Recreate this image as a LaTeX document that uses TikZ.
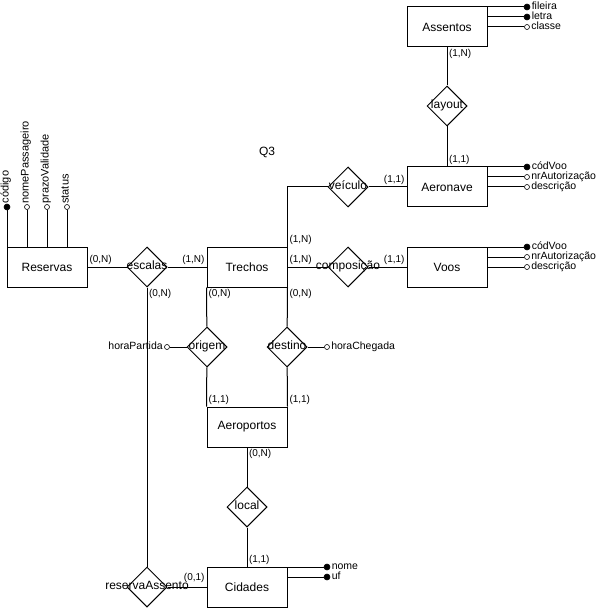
\documentclass[tikz,border=0pt]{standalone}
\usepackage{fontspec}
\setmainfont{Liberation Sans}
\usetikzlibrary{shapes.geometric}

\begin{document}
\begin{tikzpicture}[x=1pt,y=-1pt,line width=1pt,
    entity/.style={draw,minimum width=80pt,minimum height=40pt,inner sep=0pt,font=\fontsize{12}{14}\selectfont},
    rel/.style={draw,diamond,minimum width=40pt,minimum height=40pt,inner sep=0pt,label={[font=\fontsize{12}{14}\selectfont]center:#1}},
    keyattr/.style={circle,draw,fill=black,minimum size=6pt,inner sep=0pt,line width=0.6pt},
    attr/.style={circle,draw,fill=white,minimum size=5pt,inner sep=0pt,line width=0.6pt},
    card/.style={inner sep=1.5pt,font=\fontsize{10}{12}\selectfont},
    every label/.style={inner sep=0pt,label distance=1pt,text height=7pt,text depth=1.8pt,font=\fontsize{10.5}{12}\selectfont}]

\useasboundingbox (0,0) rectangle (601,609);

\node[entity] (Assentos) at (447,27) {Assentos};
\node[entity] (Aeronave) at (447,187) {Aeronave};
\node[entity] (Voos) at (447,267) {Voos};
\node[entity] (Trechos) at (247,267) {Trechos};
\node[entity] (Reservas) at (47,267) {Reservas};
\node[entity] (Aeroportos) at (247,427) {Aeroportos};
\node[entity] (Cidades) at (247,587) {Cidades};

\node[rel=layout] (layout) at (447,106) {};
\node[rel=veículo] (veiculo) at (348,187) {};
\node[rel=composição] (composicao) at (348,267) {};
\node[rel=escalas] (escalas) at (147,267) {};
\node[rel=origem] (origem) at (207,347) {};
\node[rel=destino] (destino) at (287,347) {};
\node[rel=local] (local) at (247,507) {};
\node[rel=reservaAssento] (reservaAssento) at (147,587) {};

\node[font=\fontsize{12}{14}\selectfont] (title) at (267,152) {Q3};

\draw (Assentos) -- (layout);
\draw (layout) -- (Aeronave);
\draw (veiculo) -- (Aeronave);
\draw (veiculo.west) -| (Trechos.north east);
\draw (Trechos) -- (composicao);
\draw (composicao) -- (Voos);
\draw (Reservas) -- (escalas);
\draw (escalas) -- (Trechos);
\draw (escalas) -- (reservaAssento);
\draw (reservaAssento) -- (Cidades);
\draw (Trechos.south west) -- (origem);
\draw (origem) -- (Aeroportos.north west);
\draw (Trechos.south east) -- (destino);
\draw (destino) -- (Aeroportos.north east);
\draw (Aeroportos) -- (local);
\draw (local) -- (Cidades);

\node[attr,label=left:horaPartida] (hp) at (167,347) {};
\node[attr,label=right:horaChegada] (hc) at (327,347) {};
\draw (origem) -- (hp);
\draw (destino) -- (hc);

\foreach \txt/\yy/\kind [count=\i] in {fileira/7/keyattr,letra/17/keyattr,classe/27/attr}
{
    \node[\kind,label=right:\txt] (as\i) at (527,\yy) {};
    \draw (Assentos.east |- as\i) -- (as\i);
}
\foreach \txt/\yy/\kind [count=\i] in {códVoo/167/keyattr,nrAutorização/177/attr,descrição/187/attr}
{
    \node[\kind,label=right:\txt] (ae\i) at (527,\yy) {};
    \draw (Aeronave.east |- ae\i) -- (ae\i);
}
\foreach \txt/\yy/\kind [count=\i] in {códVoo/247/keyattr,nrAutorização/257/attr,descrição/267/attr}
{
    \node[\kind,label=right:\txt] (vo\i) at (527,\yy) {};
    \draw (Voos.east |- vo\i) -- (vo\i);
}
\foreach \txt/\yy/\kind [count=\i] in {nome/567/keyattr,uf/577/keyattr}
{
    \node[\kind,label=right:\txt] (ci\i) at (327,\yy) {};
    \draw (Cidades.east |- ci\i) -- (ci\i);
}
\foreach \txt/\xx/\kind [count=\i] in {código/7/keyattr,nomePassageiro/27/attr,prazoValidade/47/attr,status/67/attr}
{
    \node[\kind,label={[rotate=90,anchor=west,font=\fontsize{11}{13}\selectfont]90:\txt}] (re\i) at (\xx,207) {};
    \draw (re\i |- Reservas.north) -- (re\i);
}

\node[card,anchor=north west] (k1) at (Assentos.south) {(1,N)};
\node[card,anchor=south west] (k2) at (Aeronave.north) {(1,1)};
\node[card,anchor=south east] (k3) at (Aeronave.west) {(1,1)};
\node[card,anchor=south west] (k4) at (Trechos.north east) {(1,N)};
\node[card,anchor=south west] (k5) at (Trechos.east) {(1,N)};
\node[card,anchor=south east] (k6) at (Voos.west) {(1,1)};
\node[card,anchor=north west] (k7) at (Trechos.south east) {(0,N)};
\node[card,anchor=north west] (k8) at (Trechos.south west) {(0,N)};
\node[card,anchor=south east] (k9) at (Trechos.west) {(1,N)};
\node[card,anchor=south west] (k10) at (Reservas.east) {(0,N)};
\node[card,anchor=north west] (k11) at (escalas.south) {(0,N)};
\node[card,anchor=south west] (k12) at (Aeroportos.north west) {(1,1)};
\node[card,anchor=south west] (k13) at (Aeroportos.north east) {(1,1)};
\node[card,anchor=north west] (k14) at (Aeroportos.south) {(0,N)};
\node[card,anchor=south west] (k15) at (Cidades.north) {(1,1)};
\node[card,anchor=south east,yshift=2.5pt] (k16) at (Cidades.west) {(0,1)};

\end{tikzpicture}
\end{document}
